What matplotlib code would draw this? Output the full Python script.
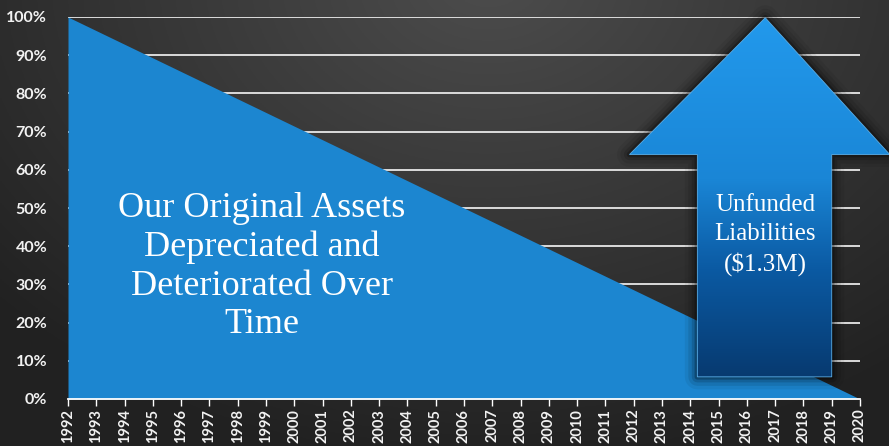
import numpy as np
import matplotlib
matplotlib.use("Agg")
import matplotlib.pyplot as plt
from matplotlib.patches import Polygon
from matplotlib.colors import LinearSegmentedColormap

# ---- data ----
years = list(range(1992, 2021))
asset_years = [1992, 2020]
asset_pct = [100, 0]
y_ticks = [0, 10, 20, 30, 40, 50, 60, 70, 80, 90, 100]
y_labels = [f"{v}%" for v in y_ticks]
asset_text = "Our Original Assets\nDepreciated and\nDeteriorated Over\nTime"
arrow_text = "Unfunded\nLiabilities\n($1.3M)"

W, H, DPI = 889, 446, 100
fig = plt.figure(figsize=(W / DPI, H / DPI), dpi=DPI)

# background gradient
bg = fig.add_axes([0, 0, 1, 1], zorder=0)
xx, yy = np.meshgrid(np.linspace(0, 1, 400), np.linspace(0, 1, 200))
d = np.sqrt(((xx - 0.55) / 0.75) ** 2 + ((yy - 1.05) / 1.1) ** 2)
val = np.clip(1 - d, 0, 1)
g = 0.13 + 0.17 * val
img = np.dstack([g, g, g])
bg.imshow(img, extent=[0, 1, 0, 1], origin="lower", aspect="auto")
bg.set_axis_off()

ax = fig.add_axes([68 / W, (H - 399) / H, (860 - 68) / W, (399 - 17) / H], zorder=1)
ax.set_facecolor("none")
ax.set_xlim(1992, 2020)
ax.set_ylim(0, 100)

for v in y_ticks[1:]:
    ax.axhline(v, color="#e8e8e8", lw=1.3, zorder=1)

ax.fill_between(asset_years, asset_pct, 0, color="#1c86d0", zorder=2, lw=0)

ax.text(1998.85, 34.6, asset_text, ha="center", va="center", color="white",
        fontsize=26, family="Liberation Serif", linespacing=1.22, zorder=5)

# arrow geometry (data coordinates)
tip_x, tip_y = 2016.65, 99.8
head_l, head_r, head_y = 2011.85, 2021.05, 64.0
sh_l, sh_r, sh_b = 2014.25, 2019.0, 5.8
pts = [(tip_x, tip_y), (head_r, head_y), (sh_r, head_y), (sh_r, sh_b),
       (sh_l, sh_b), (sh_l, head_y), (head_l, head_y)]

for lw, a in [(18, 0.06), (13, 0.09), (8, 0.14), (4, 0.25)]:
    sp = Polygon(pts, closed=True, facecolor="none", edgecolor="black",
                 lw=lw, alpha=a, joinstyle="round", zorder=3, clip_on=False)
    ax.add_patch(sp)

poly = Polygon(pts, closed=True, facecolor="none", edgecolor="#5aaee8",
               lw=0.6, zorder=4, clip_on=False)
ax.add_patch(poly)
cmap = LinearSegmentedColormap.from_list(
    "arr", [(0, "#073a70"), (0.3, "#0b5aa3"), (0.55, "#1a86d6"), (1, "#2299ec")])
grad = np.linspace(0, 1, 256).reshape(-1, 1)
im = ax.imshow(grad, extent=[head_l, head_r, sh_b, tip_y], origin="lower",
               aspect="auto", cmap=cmap, zorder=3.5)
im.set_clip_box(fig.bbox)
im.set_clip_path(poly)
ax.set_xlim(1992, 2020)
ax.set_ylim(0, 100)

ax.text(2016.65, 42.9, arrow_text, ha="center", va="center", color="white",
        fontsize=18, family="Liberation Serif", linespacing=1.38, zorder=5)

# axes styling
for s in ["top", "right", "left"]:
    ax.spines[s].set_visible(False)
ax.spines["bottom"].set_color("white")
ax.spines["bottom"].set_linewidth(1.3)
ax.spines["bottom"].set_zorder(6)
ax.set_xticks(years)
ax.set_xticklabels([str(y) for y in years], rotation=90, color="#f2f2f2",
                   fontsize=10.5, family="Lato", fontweight="bold")
ax.tick_params(axis="x", colors="white", length=5, width=1, pad=2)
ax.tick_params(axis="x", labelcolor="#f2f2f2")
ax.set_yticks(y_ticks)
ax.set_yticklabels(y_labels, color="#f2f2f2", fontsize=11.5,
                   family="Lato", fontweight="bold")
ax.tick_params(axis="y", length=0, pad=15)

fig.savefig("out.png", dpi=DPI)
